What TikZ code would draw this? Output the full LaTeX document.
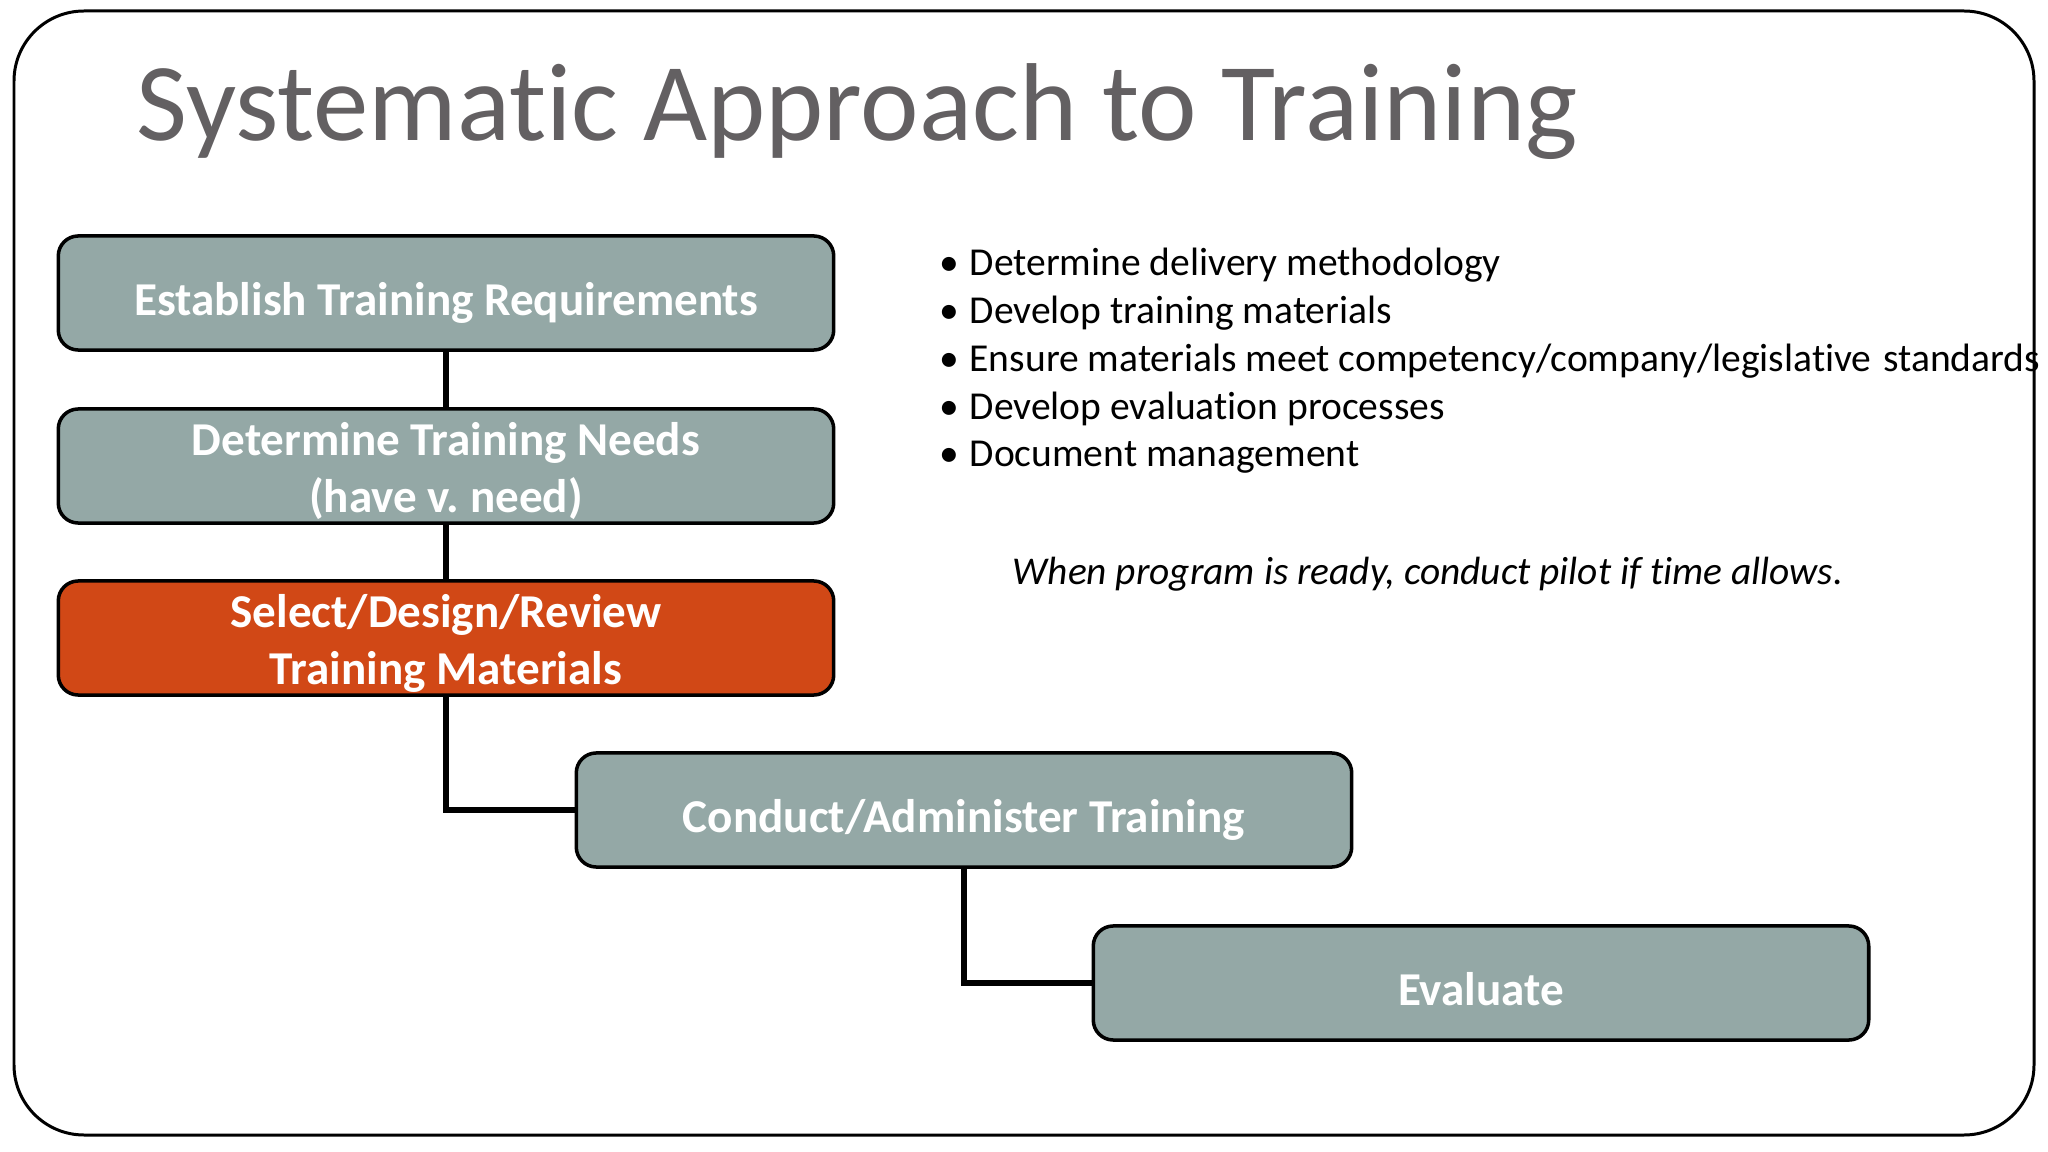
\documentclass[tikz,border=0pt]{standalone}
\usepackage{fontspec}
\setmainfont{Carlito}[Ligatures=NoCommon]
\usetikzlibrary{calc}

\definecolor{boxgray}{RGB}{148,168,166}
\definecolor{stepred}{RGB}{209,72,22}
\definecolor{titlegray}{RGB}{99,96,98}

\tikzset{
  stagebox/.style={draw=black, line width=1pt, rounded corners=0.2cm, fill=boxgray, text=white,
    minimum width=7.75cm, minimum height=1.14cm, inner sep=0pt, align=center,
    text height=13pt, text depth=0pt,
    font=\frenchspacing\bfseries\fontsize{13.4}{16.3}\selectfont},
  twolines/.style={text height=26.5pt, text depth=0pt},
  link/.style={line width=1.7pt},
  bulletline/.style={anchor=base west, inner sep=0pt, font=\fontsize{11.25}{13}\selectfont}
}

\begin{document}
\begin{tikzpicture}[x=0.01cm,y=-0.01cm]
            \useasboundingbox (0,0) rectangle (2048,1152);
            \draw[line width=0.85pt, rounded corners=0.7cm](14,11) rectangle (2034,1135);

            \node[anchor=base west, inner sep=0pt, text=titlegray, font=\fontsize{31.5}{36}\selectfont]
              (title) at (136,141) {Systematic Approach to Training};

            \node[stagebox] (establish) at (446,293) {Establish Training Requirements};
            \node[stagebox, twolines] (needs) at (446,466) {Determine Training Needs\\(have v. need)};
            \node[stagebox, twolines, fill=stepred] (design) at (446,638) {Select/Design/Review\\Training Materials};
            \node[stagebox] (conduct) at (964,810) {Conduct/Administer Training};
            \node[stagebox] (evaluate) at (1481,983) {Evaluate};

            \draw[link](establish)--(needs);
            \draw[link](needs)--(design);
            \draw[link](design.south) |- (conduct.west);
            \draw[link](conduct.south) |- (evaluate.west);

            \foreach \t [count=\i] in {{Determine delivery methodology},{Develop training materials},
              {Ensure materials meet competency/company/legislative\hspace{0.3em}standards},
              {Develop evaluation processes},{Document management}}{
            \node[bulletline] (task\i) at (969,276+47.7*\i-47.7) {\llap{\textbullet\hspace{3pt}}\t};
            }

            \node[anchor=base west, inner sep=0pt, font=\itshape\fontsize{11.2}{13}\selectfont]
              (pilot) at (1012,584) {When program is ready, conduct pilot if time allows.};

        \end{tikzpicture}
\end{document}
